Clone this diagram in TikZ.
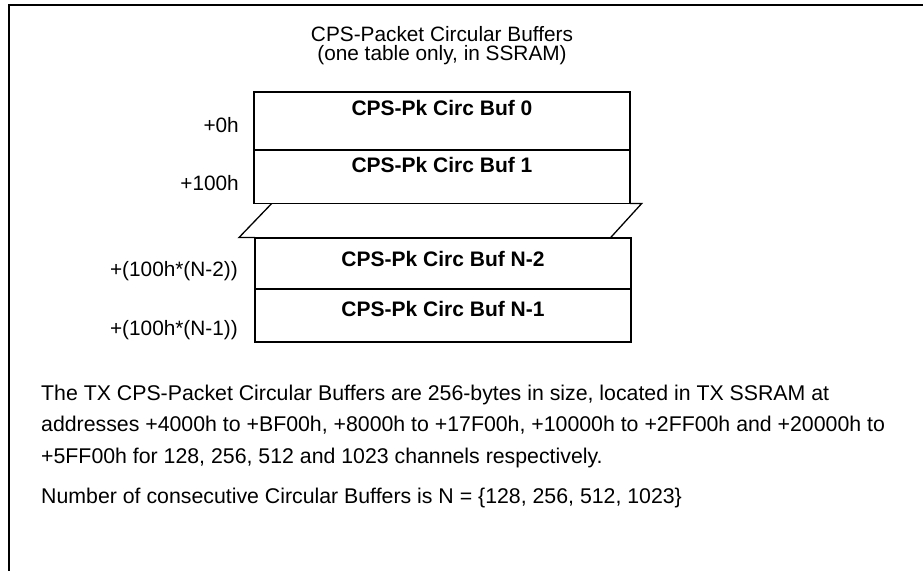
\documentclass[tikz,border=0pt]{standalone}
\usepackage{fontspec}
\setmainfont{Liberation Sans}
\begin{document}
\begin{tikzpicture}[x=1pt,y=-1pt,
  frame/.style={line width=2pt},
  bufbox/.style={draw,line width=1.8pt,rectangle,inner sep=0pt,minimum width=376pt},
  slant/.style={line width=1.3pt},
  txt/.style={inner sep=0pt,font=\fontsize{20.8}{24}\selectfont},
  bodytxt/.style={inner sep=0pt,font=\fontsize{21.3}{24}\selectfont},
  btxt/.style={inner sep=0pt,font=\fontsize{21}{24}\selectfont\bfseries}]
\useasboundingbox (0,0) rectangle (923,571);
% frame
\draw[frame] (923,5) -- (9,5) -- (9,571);
% title (base anchor = baseline of last line)
\node[inner sep=0pt,align=center,font=\fontsize{20.8}{18.3}\selectfont,anchor=base] (title) at (442,60)
  {CPS-Packet Circular Buffers\\(one table only, in SSRAM)};
% upper boxes
\node[bufbox,minimum height=58pt] (b0) at (442,121) {};
\node[bufbox,minimum height=53.5pt] (b1) at (442,176.75) {};
% lower boxes
\node[bufbox,minimum height=51pt] (bn2) at (443,263.5) {};
\node[bufbox,minimum height=52.7pt] (bn1) at (443,315.35) {};
% break (parallelogram)
\draw[slant] (271.7,203.5) -- (239,237.5) -- (255,237.5);
\draw[slant] (630,203.5) -- (641.7,203.5) -- (610.7,237.5);
% box texts
\node[btxt,anchor=base] (l0) at (442,115) {CPS-Pk Circ Buf 0};
\node[btxt,anchor=base] (l1) at (442,172.3) {CPS-Pk Circ Buf 1};
\node[btxt,anchor=base] (ln2) at (443,266) {CPS-Pk Circ Buf N-2};
\node[btxt,anchor=base] (ln1) at (443,316) {CPS-Pk Circ Buf N-1};
% offsets
\node[txt,anchor=base east] (o0) at (239,132) {+0h};
\node[txt,anchor=base east] (o1) at (239,190.7) {+100h};
\node[txt,anchor=base east] (o2) at (238,276.7) {+(100h*(N-2))};
\node[txt,anchor=base east] (o3) at (238,335) {+(100h*(N-1))};
% description
\node[bodytxt,anchor=base west] (d1) at (41,400) {The TX CPS-Packet Circular Buffers are 256-bytes in size, located in TX SSRAM at};
\node[bodytxt,anchor=base west] (d2) at (41,431.5) {addresses +4000h to +BF00h, +8000h to +17F00h, +10000h to +2FF00h and +20000h to};
\node[bodytxt,anchor=base west] (d3) at (41,463) {+5FF00h for 128, 256, 512 and 1023 channels respectively.};
\node[bodytxt,anchor=base west] (d4) at (41,503) {Number of consecutive Circular Buffers is N = \{128, 256, 512, 1023\}};
\end{tikzpicture}
\end{document}
